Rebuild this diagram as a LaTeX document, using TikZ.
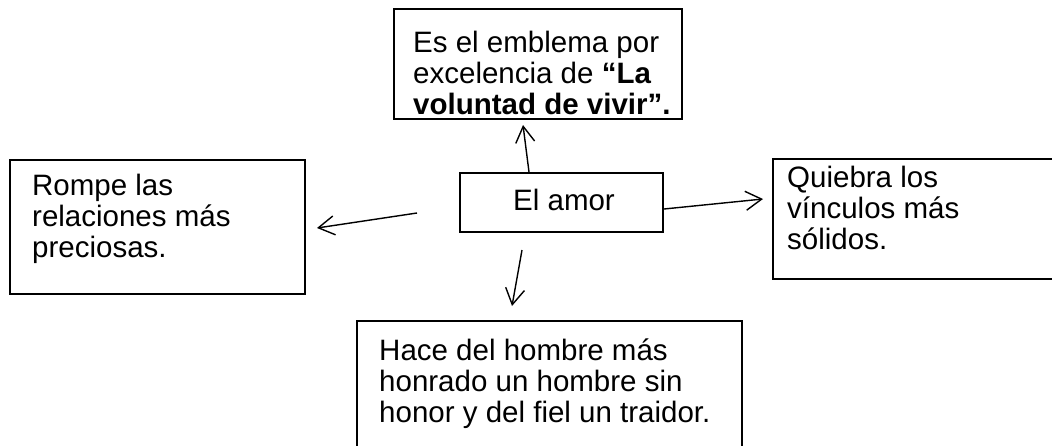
\documentclass[tikz,border=0pt]{standalone}
\usepackage{fontspec}
\setmainfont{Liberation Sans}
\usetikzlibrary{arrows.meta,calc}
\begin{document}
\begin{tikzpicture}[x=1pt,y=-1pt,
  box/.style={draw=black,line width=2pt,inner sep=0pt,anchor=north west},
  txt/.style={inner sep=0pt,anchor=north west,align=left,font=\fontsize{29.5}{31}\selectfont},
  arr/.style={line width=1.4pt,-{Straight Barb[length=16pt,width=19pt,line width=1.4pt]}}]
\useasboundingbox (0,0) rectangle (1052,445);
\begin{scope}
\clip (0,0) rectangle (1052,445);
% boxes
\node[box,minimum width=288pt,minimum height=110pt] (top) at (393,8) {};
\node[box,minimum width=203pt,minimum height=59pt] (ctr) at (459,172) {};
\node[box,minimum width=295pt,minimum height=134pt] (left) at (9,159) {};
\node[box,minimum width=300pt,minimum height=120pt] (right) at (772,158) {};
\node[box,minimum width=385pt,minimum height=160pt] (bot) at (356,320) {};
\end{scope}
% texts
\node[txt] (ttop) at (413,52-25) {\rule{0pt}{25pt}Es el emblema por\\excelencia de \textbf{“La}\\\textbf{voluntad de vivir”.}};
\node[txt] (tctr) at (513,210-25) {\rule{0pt}{25pt}El amor};
\node[txt] (tleft) at (32,195-25) {\rule{0pt}{25pt}Rompe las\\relaciones más\\preciosas.};
\node[txt] (tright) at (787,187-25) {\rule{0pt}{25pt}Quiebra los\\vínculos más\\sólidos.};
\node[txt] (tbot) at (379,360-25) {\rule{0pt}{25pt}Hace del hombre más\\honrado un hombre sin\\honor y del fiel un traidor.};
% connector end points
\coordinate (upS) at ($(ctr.north west)+(70,0)$);
\coordinate (upE) at ($(top.south west)+(130,5)$);
\coordinate (lfS) at ($(ctr.west)+(-42,10.5)$);
\coordinate (lfE) at ($(left.east)+(11,1)$);
\coordinate (rtS) at ($(ctr.east)+(0,6.5)$);
\coordinate (rtE) at ($(right.north west)+(-9,41)$);
\coordinate (dnS) at ($(ctr.south west)+(63,17)$);
\coordinate (dnE) at ($(bot.north west)+(156,-14)$);
\draw[arr] (upS) -- (upE);
\draw[arr] (lfS) -- (lfE);
\draw[arr] (rtS) -- (rtE);
\draw[arr] (dnS) -- (dnE);
\end{tikzpicture}
\end{document}
